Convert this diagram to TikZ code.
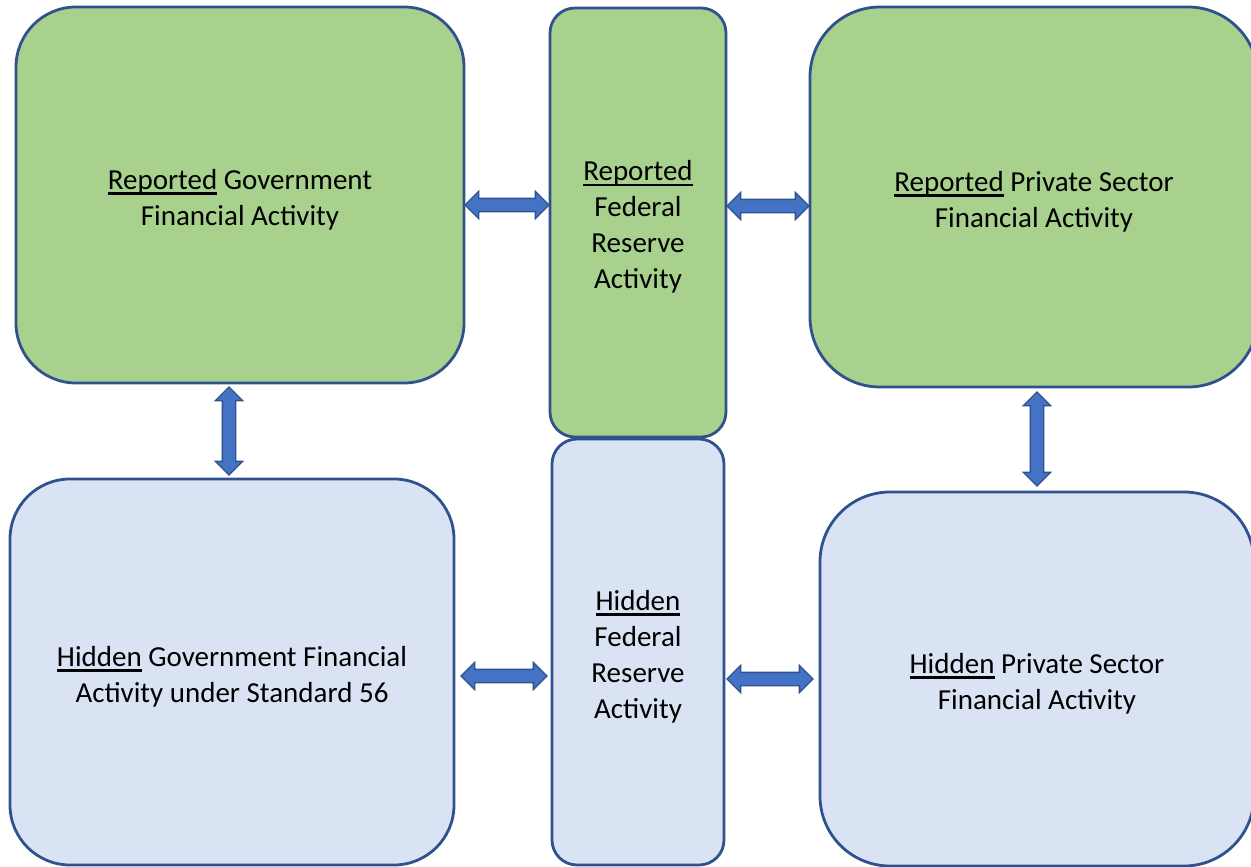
\documentclass[tikz,border=0pt]{standalone}
\usepackage{fontspec}
\setmainfont{Carlito}
\usetikzlibrary{shapes.arrows}
\definecolor{bordc}{HTML}{2F528F}
\definecolor{greenc}{HTML}{A9D18E}
\definecolor{bluec}{HTML}{DAE3F3}
\definecolor{arrc}{HTML}{4472C4}
\newcommand\myul[1]{\setbox0\hbox{#1}\rlap{\rule[-5.5pt]{\wd0}{2.6pt}}\box0\relax}
\newcommand\tstrut{\rule{0pt}{29pt}}
\tikzset{
  box/.style={draw=bordc, line width=2.8pt, rectangle, inner sep=0pt, align=center,
    font=\fontsize{29}{36}\selectfont},
  green/.style={box, fill=greenc},
  blue/.style={box, fill=bluec},
  dblarrow/.style={double arrow, draw=bordc, fill=arrc, line width=1.3pt, inner xsep=0pt, inner ysep=6pt,
    double arrow head extend=7pt, double arrow tip angle=90}
}
\begin{document}
\begin{tikzpicture}[x=1pt,y=-1pt]
\useasboundingbox (0,0) rectangle (1251,867);
\clip (0,0) rectangle (1251,867);
\node[green, minimum width=448pt, minimum height=376pt, rounded corners=60pt] (rg) at (240,195)
  {\tstrut\myul{Reported} Government\\Financial Activity};
\node[green, minimum width=176pt, minimum height=429pt, rounded corners=25pt] (rf) at (638,222.5)
  {\tstrut\myul{Reported}\\Federal\\Reserve\\Activity};
\node[green, minimum width=448pt, minimum height=380pt, rounded corners=70pt] (rp) at (1034,197)
  {\tstrut\myul{Reported} Private Sector\\Financial Activity};
\node[blue, minimum width=444pt, minimum height=386pt, rounded corners=60pt] (hg) at (232,672)
  {\tstrut\myul{Hidden} Government Financial\\Activity under Standard 56};
\node[blue, minimum width=172pt, minimum height=426pt, rounded corners=25pt] (hf) at (638,652)
  {\tstrut\myul{Hidden}\\Federal\\Reserve\\Activity};
\node[blue, minimum width=434pt, minimum height=374pt, rounded corners=70pt] (hp) at (1037,679)
  {\tstrut\myul{Hidden} Private Sector\\Financial Activity};
\node[dblarrow, minimum height=84pt] (a1) at (507,205) {};
\node[dblarrow, minimum height=82pt] (a2) at (768,206) {};
\node[dblarrow, minimum height=88pt, rotate=90] (a3) at (229,431) {};
\node[dblarrow, minimum height=94pt, rotate=90] (a4) at (1037,439) {};
\node[dblarrow, minimum height=86pt] (a5) at (504,676) {};
\node[dblarrow, minimum height=86pt] (a6) at (770,679) {};
\end{tikzpicture}
\end{document}
